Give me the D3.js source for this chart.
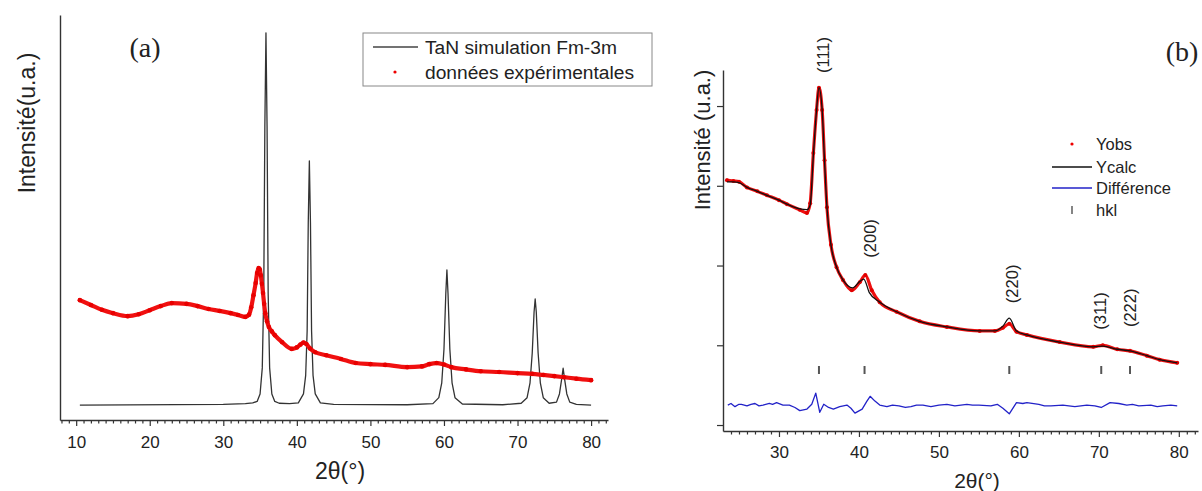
<!DOCTYPE html>
<html>
<head>
<meta charset="utf-8">
<script src="https://cdn.jsdelivr.net/npm/d3@7"></script>
<style>
  html, body { margin: 0; padding: 0; background: #fff; }
  svg { display: block; }
  text { font-family: "Liberation Sans", Arial, sans-serif; fill: #222; }
  .serif { font-family: "Liberation Serif", "Times New Roman", serif; }
</style>
</head>
<body>
<div id="chart"></div>
<script>
// ---------------- DATA ----------------
// Panel (a): x tick labels
const aTicks = [10, 20, 30, 40, 50, 60, 70, 80];
// Panel (a): TaN simulation Fm-3m (2θ, intensity)
const simTheta = [10.5, 30, 33, 34.0, 34.6, 35.0, 35.3, 35.5, 35.65, 35.8, 35.95, 36.1, 36.3, 36.6, 37.0, 37.6,
  39.0, 40.2, 40.9, 41.2, 41.4, 41.55, 41.7, 41.85, 42.0, 42.2, 42.5, 43.2,
  45, 55, 58.5, 59.3, 59.7, 60.0, 60.25, 60.4, 60.55, 60.8, 61.1, 61.5, 62.5,
  68, 70.5, 71.3, 71.7, 72.0, 72.25, 72.4, 72.55, 72.8, 73.1, 73.5, 74.3,
  75.3, 75.7, 76.0, 76.2, 76.4, 76.7, 77.1, 78, 80];
const simInt = [0, 0.2, 0.4, 0.6, 1.0, 3, 10, 30, 75, 100, 75, 30, 10, 3, 1.0, 0.5,
  0.4, 0.6, 3, 8, 20, 49, 65.6, 49, 20, 8, 3, 0.6,
  0.2, 0.1, 0.4, 2, 6, 15, 30, 36.3, 30, 15, 6, 2, 0.3,
  0.1, 0.5, 2, 6, 14, 25, 28.5, 25, 14, 6, 2, 0.5,
  0.8, 3, 7, 9.9, 7, 3, 0.8, 0.2, 0];
// Panel (a): données expérimentales (2θ, intensity)
const expTheta = [10.5, 12, 13.5, 15, 17, 18.5, 20, 21.5, 23, 25, 26.5, 28, 29.5, 31, 32, 33, 33.5, 33.8, 34.1, 34.4, 34.6, 34.8,
  34.95, 35.1, 35.25, 35.4, 35.55, 35.7, 35.95, 36.2, 36.6, 37, 38, 39.3, 40, 40.5, 40.9, 41.3, 41.8, 42.5, 44, 46, 48, 50,
  52, 55, 57, 58, 59, 60, 61, 63, 65, 67.5, 70, 72, 73.5, 75, 76.3, 78, 80];
const expInt = [28.2, 26.9, 25.6, 24.7, 23.9, 24.4, 25.5, 26.6, 27.4, 27.2, 26.6, 25.8, 25.3, 24.7, 24.2, 23.7, 24.3, 26.3, 29.5, 32.8, 35.5, 36.8,
  36.5, 34.9, 32.6, 30.1, 27.2, 24.7, 22.5, 21.0, 19.8, 18.8, 16.9, 15.1, 15.5, 16.3, 16.8, 16.4, 15.2, 14.2, 13.4, 12.4, 11.3, 11.0,
  10.8, 10.2, 10.4, 11.0, 11.3, 10.9, 10.2, 9.6, 9.1, 8.9, 8.6, 8.4, 8.1, 7.8, 7.5, 7.1, 6.7];

// Panel (b): x tick labels
const bTicks = [30, 40, 50, 60, 70, 80];
// Panel (b): Yobs
const obsTheta = [23.5, 24.3, 25, 26, 27.3, 28.5, 30, 31, 32.6, 33.5, 33.9, 34.3, 34.7, 35.0, 35.4, 35.7, 36.0, 36.5, 37.2, 38,
  39.1, 40.1, 40.8, 41.6, 42.6, 44.7, 47.6, 51, 55.1, 57, 58, 58.8, 59.7, 61, 65.1, 69.3, 70.5, 72.3, 73.9, 76, 77.6, 79.8];
const obsInt = [3.07, 3.06, 3.05, 2.98, 2.93, 2.88, 2.82, 2.77, 2.70, 2.66, 2.78, 3.41, 3.95, 4.23, 3.95, 3.32, 2.73, 2.26, 1.98, 1.82,
  1.69, 1.79, 1.88, 1.69, 1.54, 1.42, 1.30, 1.23, 1.18, 1.18, 1.22, 1.27, 1.17, 1.13, 1.04, 0.98, 1.00, 0.95, 0.93, 0.87, 0.82, 0.78];
// Panel (b): Ycalc
const calcTheta = [23.5, 24.3, 25, 26, 27.3, 28.5, 30, 31, 32.6, 33.5, 33.9, 34.3, 34.7, 35.0, 35.4, 35.7, 36.0, 36.5, 37.2, 38,
  39.2, 40.1, 40.6, 41.3, 42.6, 44.7, 47.6, 51, 55.1, 57, 58, 58.8, 59.7, 61, 65.1, 69.3, 70.5, 72.3, 73.9, 76, 77.6, 79.8];
const calcInt = [3.05, 3.05, 3.04, 2.98, 2.93, 2.88, 2.82, 2.77, 2.71, 2.70, 2.76, 3.38, 3.95, 4.23, 3.95, 3.30, 2.73, 2.26, 1.98, 1.82,
  1.72, 1.80, 1.83, 1.66, 1.54, 1.42, 1.30, 1.23, 1.18, 1.18, 1.24, 1.34, 1.18, 1.13, 1.04, 0.98, 0.99, 0.95, 0.93, 0.87, 0.82, 0.78];
// Panel (b): Différence
const diffTheta = [23.6, 24.0, 24.5, 25.0, 25.3, 26, 26.5, 27, 27.5, 28, 28.8, 29.2, 29.7, 30.5, 31.3, 32.0, 32.6, 33.5, 34.1, 34.6, 35.1, 35.6, 36.2, 36.8, 37.6, 38.5,
  39.0, 39.5, 40.4, 41.0, 41.4, 42.0, 42.6, 43.5, 44.2, 45, 45.8, 46.5, 47.2, 48, 49, 50, 51, 52, 53.5, 54.2, 55, 56.5, 57.3, 58, 58.8, 59.7, 60.5, 61, 62.5, 63.2, 64, 65.5, 67, 68.5,
  69.5, 70.3, 71.4, 72.5, 73.5, 74.2, 75, 76.5, 77.3, 78, 79, 79.8];
const diffInt = [0.25, 0.27, 0.23, 0.26, 0.26, 0.24, 0.26, 0.27, 0.24, 0.25, 0.27, 0.26, 0.28, 0.25, 0.25, 0.22, 0.18, 0.20, 0.26, 0.40, 0.16, 0.26, 0.22, 0.20, 0.23, 0.25,
  0.21, 0.15, 0.20, 0.30, 0.36, 0.30, 0.25, 0.23, 0.25, 0.24, 0.22, 0.23, 0.25, 0.25, 0.23, 0.25, 0.26, 0.24, 0.26, 0.25, 0.25, 0.24, 0.26, 0.21, 0.14, 0.28, 0.27, 0.28, 0.26, 0.24, 0.24, 0.25, 0.23, 0.25,
  0.24, 0.22, 0.28, 0.27, 0.25, 0.26, 0.24, 0.25, 0.23, 0.24, 0.25, 0.24];
// Panel (b): hkl reflections
const hklTheta = [35.0, 40.7, 58.8, 70.3, 73.9];
const hklTickInt = [0.69, 0.69, 0.69, 0.69, 0.69];
const hklNames = ["(111)", "(200)", "(220)", "(311)", "(222)"];
const hklLabelTheta = [35.5, 41.4, 59.2, 70.1, 73.9];
const hklLabelInt = [4.64, 2.34, 1.77, 1.43, 1.47];

// ---------------- CHART ----------------
const W = 1202, H = 491;
const svg = d3.select("#chart").append("svg").attr("width", W).attr("height", H);
svg.append("rect").attr("width", W).attr("height", H).attr("fill", "#fff");

const zip = (xs, ys) => xs.map((x, i) => [x, ys[i]]);

function styleAxis(g) {
  g.selectAll(".domain").attr("stroke", "#333").attr("stroke-width", 1.4);
  g.selectAll(".tick line").attr("stroke", "#333").attr("stroke-width", 1.2);
  g.selectAll(".tick text").attr("font-size", 17).attr("fill", "#222")
    .attr("font-family", '"Liberation Sans", Arial, sans-serif');
}

// ===== Panel (a) =====
const xa = d3.scaleLinear().domain([7.8, 82.3]).range([60, 608]);
const ya = d3.scaleLinear().domain([-4, 104.8]).range([420, 15]);

const gaxA = svg.append("g").attr("transform", "translate(0,420)")
  .call(d3.axisBottom(xa).tickValues(aTicks).tickSize(6).tickSizeOuter(0).tickPadding(10).tickFormat(d3.format("d")));
styleAxis(gaxA);
const minorA = d3.range(8, 83).filter(v => v % 10 !== 0);
const gminA = svg.append("g").attr("transform", "translate(0,420)")
  .call(d3.axisBottom(xa).tickValues(minorA).tickSize(3.5).tickFormat(""));
gminA.select(".domain").remove();
styleAxis(gminA);

const gayA = svg.append("g").attr("transform", "translate(60,0)")
  .call(d3.axisLeft(ya).tickValues([]).tickSizeOuter(0));
styleAxis(gayA);

const lineA = d3.line().x(d => xa(d[0])).y(d => ya(d[1]));
svg.append("path").datum(zip(simTheta, simInt)).attr("d", lineA)
  .attr("fill", "none").attr("stroke", "#333").attr("stroke-width", 1.3).attr("stroke-linejoin", "round");
svg.append("path").datum(zip(expTheta, expInt)).attr("d", lineA.curve(d3.curveMonotoneX))
  .attr("fill", "none").attr("stroke", "#f01010").attr("stroke-width", 4.2).attr("stroke-linejoin", "round").attr("stroke-linecap", "round");
svg.append("g").selectAll("circle").data(zip(expTheta, expInt)).join("circle")
  .attr("cx", d => xa(d[0])).attr("cy", d => ya(d[1])).attr("r", 2.3).attr("fill", "#e80000");

svg.append("text").attr("x", 340).attr("y", 471).attr("text-anchor", "middle")
  .attr("dominant-baseline", "central").attr("font-size", 23).text("2θ(°)");
svg.append("text").attr("transform", "translate(27,123) rotate(-90)").attr("text-anchor", "middle")
  .attr("dominant-baseline", "central").attr("font-size", 23).text("Intensité(u.a.)");
svg.append("text").attr("class", "serif").attr("x", 145).attr("y", 47).attr("text-anchor", "middle")
  .attr("dominant-baseline", "central").attr("font-size", 28).text("(a)");

// legend (a)
const legA = svg.append("g");
legA.append("rect").attr("x", 363).attr("y", 33).attr("width", 289).attr("height", 53)
  .attr("fill", "#fff").attr("stroke", "#888").attr("stroke-width", 1);
legA.append("line").attr("x1", 373).attr("x2", 418).attr("y1", 47).attr("y2", 47)
  .attr("stroke", "#444").attr("stroke-width", 1.6);
legA.append("text").attr("x", 425).attr("y", 47).attr("dominant-baseline", "central")
  .attr("font-size", 19.2).attr("fill", "#333").text("TaN simulation Fm-3m");
legA.append("circle").attr("cx", 395).attr("cy", 72).attr("r", 1.6).attr("fill", "#e00");
legA.append("text").attr("x", 425).attr("y", 72).attr("dominant-baseline", "central")
  .attr("font-size", 19.2).attr("fill", "#333").text("données expérimentales");

// ===== Panel (b) =====
const xb = d3.scaleLinear().domain([23, 82.4]).range([723, 1198]);
const yb = d3.scaleLinear().domain([-0.075, 4.452]).range([431, 70]);

const gaxB = svg.append("g").attr("transform", "translate(0,431)")
  .call(d3.axisBottom(xb).tickValues(bTicks).tickSize(6).tickSizeOuter(0).tickPadding(9).tickFormat(d3.format("d")));
styleAxis(gaxB);
const minorB = d3.range(24, 83).filter(v => v % 10 !== 0);
const gminB = svg.append("g").attr("transform", "translate(0,431)")
  .call(d3.axisBottom(xb).tickValues(minorB).tickSize(3.5).tickFormat(""));
gminB.select(".domain").remove();
styleAxis(gminB);

const gayB = svg.append("g").attr("transform", "translate(723,0)")
  .call(d3.axisLeft(yb).tickValues([0, 1, 2, 3, 4]).tickSize(6).tickSizeOuter(0).tickFormat(""));
styleAxis(gayB);

const lineB = d3.line().x(d => xb(d[0])).y(d => yb(d[1])).curve(d3.curveMonotoneX);
svg.append("path").datum(zip(obsTheta, obsInt)).attr("d", lineB)
  .attr("fill", "none").attr("stroke", "#ee1010").attr("stroke-width", 3.2).attr("stroke-linejoin", "round").attr("stroke-linecap", "round");
svg.append("g").selectAll("circle").data(zip(obsTheta, obsInt)).join("circle")
  .attr("cx", d => xb(d[0])).attr("cy", d => yb(d[1])).attr("r", 2).attr("fill", "#e00000");
svg.append("path").datum(zip(calcTheta, calcInt)).attr("d", lineB)
  .attr("fill", "none").attr("stroke", "#111").attr("stroke-width", 1.3).attr("stroke-linejoin", "round");
svg.append("path").datum(zip(diffTheta, diffInt)).attr("d", d3.line().x(d => xb(d[0])).y(d => yb(d[1])))
  .attr("fill", "none").attr("stroke", "#2222c8").attr("stroke-width", 1.3).attr("stroke-linejoin", "round");

svg.append("g").selectAll("line").data(zip(hklTheta, hklTickInt)).join("line")
  .attr("x1", d => xb(d[0])).attr("x2", d => xb(d[0]))
  .attr("y1", d => yb(d[1]) - 4).attr("y2", d => yb(d[1]) + 4)
  .attr("stroke", "#555").attr("stroke-width", 2);

svg.append("g").selectAll("text").data(hklNames).join("text")
  .attr("transform", (d, i) => `translate(${xb(hklLabelTheta[i])},${yb(hklLabelInt[i])}) rotate(-90)`)
  .attr("text-anchor", "middle").attr("dominant-baseline", "central")
  .attr("font-size", 16.5).attr("fill", "#222").text(d => d);

svg.append("text").attr("x", 977).attr("y", 480).attr("text-anchor", "middle")
  .attr("dominant-baseline", "central").attr("font-size", 21).text("2θ(°)");
svg.append("text").attr("transform", "translate(702,140) rotate(-90)").attr("text-anchor", "middle")
  .attr("dominant-baseline", "central").attr("font-size", 22).text("Intensité (u.a.)");
svg.append("text").attr("class", "serif").attr("x", 1182).attr("y", 51).attr("text-anchor", "middle")
  .attr("dominant-baseline", "central").attr("font-size", 28).text("(b)");

// legend (b)
const legB = svg.append("g");
const legRows = [
  { name: "Yobs", y: 144, kind: "dot", color: "#e00" },
  { name: "Ycalc", y: 167, kind: "line", color: "#111" },
  { name: "Différence", y: 188, kind: "line", color: "#2222c8" },
  { name: "hkl", y: 210, kind: "tick", color: "#666" }
];
legRows.forEach(r => {
  if (r.kind === "dot") legB.append("circle").attr("cx", 1072).attr("cy", r.y).attr("r", 1.6).attr("fill", r.color);
  if (r.kind === "line") legB.append("line").attr("x1", 1052).attr("x2", 1092).attr("y1", r.y).attr("y2", r.y)
    .attr("stroke", r.color).attr("stroke-width", 1.5);
  if (r.kind === "tick") legB.append("line").attr("x1", 1072).attr("x2", 1072).attr("y1", r.y - 4).attr("y2", r.y + 4)
    .attr("stroke", r.color).attr("stroke-width", 1.6);
  legB.append("text").attr("x", 1096).attr("y", r.y).attr("dominant-baseline", "central")
    .attr("font-size", 16.5).attr("fill", "#222").text(r.name);
});
</script>
</body>
</html>
